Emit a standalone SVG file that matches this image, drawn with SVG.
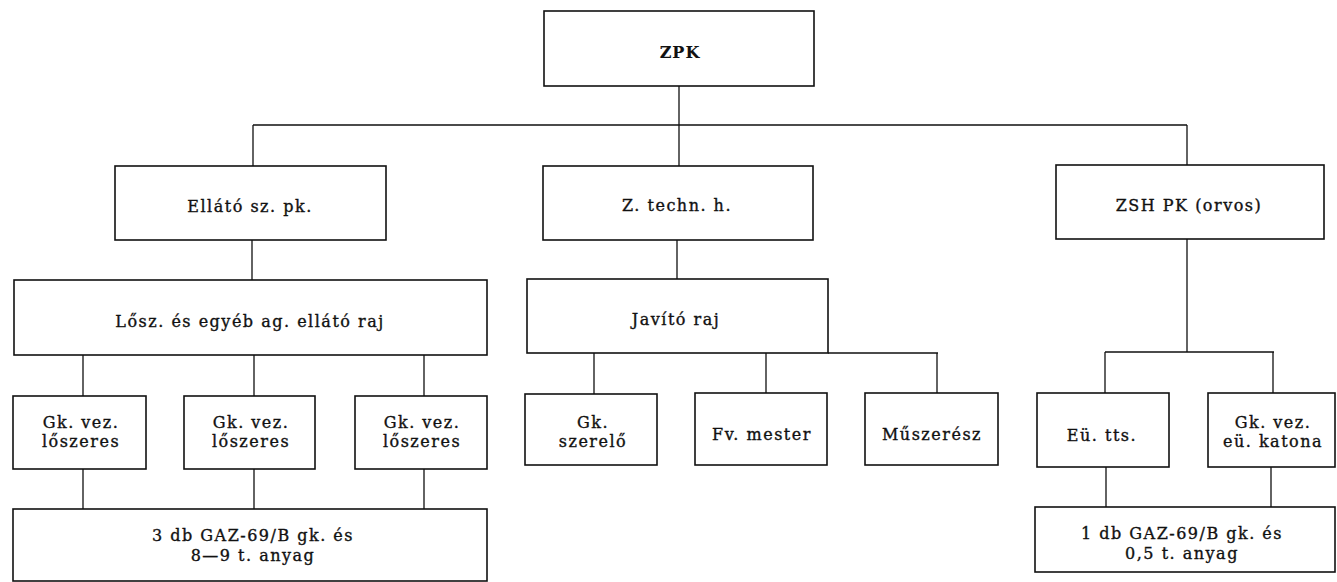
<svg xmlns="http://www.w3.org/2000/svg" width="1337" height="582" viewBox="0 0 1337 582">
<style>
.bg{fill:#fff}
.box{fill:#fff;stroke:#111;stroke-width:1.6}
.c{stroke:#111;stroke-width:1.3;fill:none}
.t{font-family:"DejaVu Serif","Liberation Serif",serif;font-size:16px;letter-spacing:1.5px;text-anchor:middle;fill:#111;stroke:#111;stroke-width:0.35}
.b{font-weight:bold;stroke-width:0.1}
</style>
<rect class="bg" x="0" y="0" width="1337" height="582"/>
<g id="connectors">
<path class="c" d="M679 86V125M253 125H1187M253 125V166M679 125V166M1187 125V165"/>
<path class="c" d="M252 240V280M677 240V279M1187 239V352"/>
<path class="c" d="M83 355V396M254 355V396M424 355V396"/>
<path class="c" d="M828 353H938M594 353V394M766 353V393M937 353V393"/>
<path class="c" d="M1105 352H1274M1105 352V393M1273 352V393"/>
<path class="c" d="M83 469V509M254 469V509M424 469V509"/>
<path class="c" d="M1106 467V507M1271 467V507"/>
</g>
<g id="zpk"><rect class="box" x="544" y="11" width="270" height="75"/><text class="t b" x="680" y="58" style="letter-spacing:1px">ZPK</text></g>
<g id="ellato"><rect class="box" x="115" y="166" width="271" height="74"/><text class="t" x="250" y="212">Ellátó sz. pk.</text></g>
<g id="ztechn"><rect class="box" x="543" y="166" width="270" height="74"/><text class="t" x="677" y="211">Z. techn. h.</text></g>
<g id="zsh"><rect class="box" x="1056" y="165" width="268" height="74"/><text class="t" x="1189" y="211">ZSH PK (orvos)</text></g>
<g id="losz"><rect class="box" x="14" y="280" width="473" height="75"/><text class="t" x="250" y="327">Lősz. és egyéb ag. ellátó raj</text></g>
<g id="javito"><rect class="box" x="527" y="279" width="301" height="74"/><text class="t" x="676" y="325">Javító raj</text></g>
<g id="gk1"><rect class="box" x="13" y="396" width="133" height="73"/><text class="t" x="81" y="428">Gk. vez.<tspan x="81" dy="19">lőszeres</tspan></text></g>
<g id="gk2"><rect class="box" x="184" y="396" width="131" height="73"/><text class="t" x="251" y="428">Gk. vez.<tspan x="251" dy="19">lőszeres</tspan></text></g>
<g id="gk3"><rect class="box" x="355" y="396" width="132" height="73"/><text class="t" x="422" y="428">Gk. vez.<tspan x="422" dy="19">lőszeres</tspan></text></g>
<g id="szerelo"><rect class="box" x="525" y="394" width="132" height="71"/><text class="t" x="593" y="428">Gk.<tspan x="593" dy="19">szerelő</tspan></text></g>
<g id="fvmester"><rect class="box" x="695" y="393" width="132" height="72"/><text class="t" x="762" y="440">Fv. mester</text></g>
<g id="muszeresz"><rect class="box" x="865" y="393" width="133" height="72"/><text class="t" x="932" y="440">Műszerész</text></g>
<g id="eutts"><rect class="box" x="1037" y="393" width="132" height="74"/><text class="t" x="1102" y="441">Eü. tts.</text></g>
<g id="gkeu"><rect class="box" x="1208" y="393" width="127" height="74"/><text class="t" x="1273" y="428">Gk. vez.<tspan x="1273" dy="19">eü. katona</tspan></text></g>
<g id="anyag1"><rect class="box" x="13" y="509" width="474" height="72"/><text class="t" x="253" y="541">3 db GAZ-69/B gk. és<tspan x="253" dy="20">8—9 t. anyag</tspan></text></g>
<g id="anyag2"><rect class="box" x="1035" y="507" width="300" height="65"/><text class="t" x="1182" y="539">1 db GAZ-69/B gk. és<tspan x="1182" dy="20">0,5 t. anyag</tspan></text></g>
</svg>
